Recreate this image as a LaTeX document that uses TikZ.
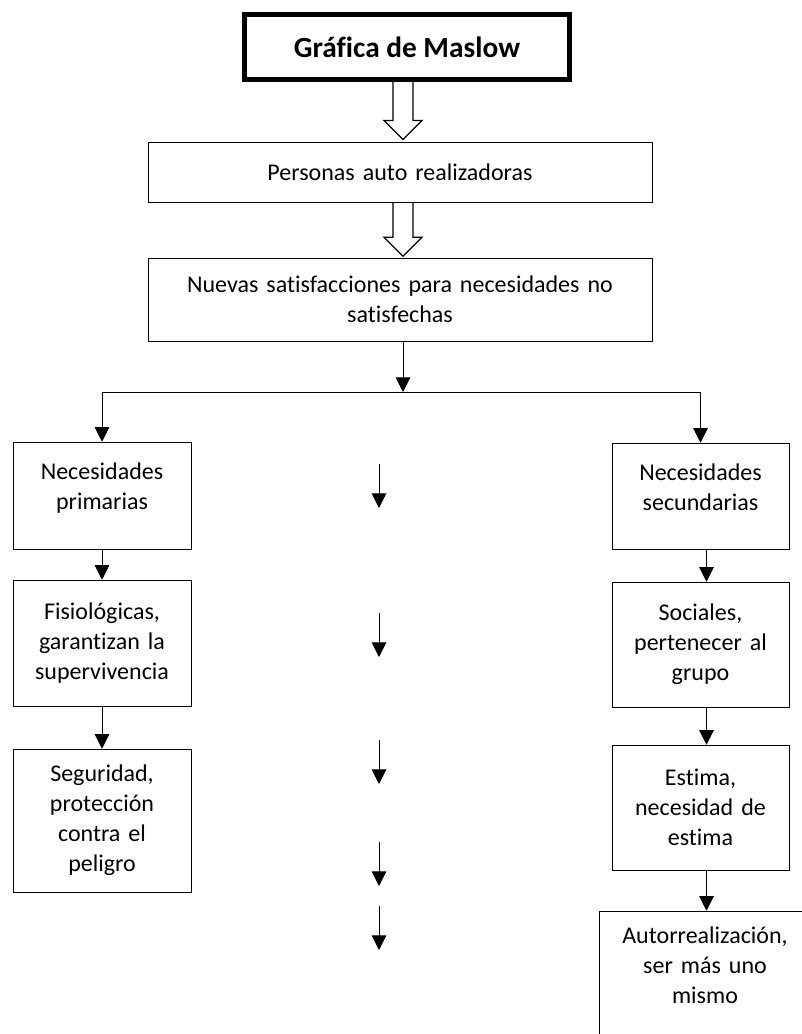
\documentclass[tikz,border=0pt]{standalone}
\usepackage{fontspec}
\setmainfont{Carlito}[Ligatures=CommonOff]
\usetikzlibrary{arrows.meta}

\begin{document}
\begin{tikzpicture}[x=0.75pt,y=-0.75pt,every node/.style={draw, rectangle, align=center, inner xsep=0pt, inner ysep=4pt, font=\fontsize{18}{22.5}\selectfont},arr/.style={-{Triangle[length=11pt,width=11pt]}, line width=0.75pt},hollow/.style={line width=1pt}]
	\useasboundingbox (0,0) rectangle (801,1034);
	\node[line width=3.75pt, minimum width=243.75pt, minimum height=48.75pt, font=\fontsize{22}{26}\selectfont\bfseries] (title) at (407,47) {Gráfica de Maslow};
	\node[text width=378pt, minimum height=45pt] (personas) at (400,172) {Personas auto realizadoras};
	\node[text width=378pt, minimum height=62.25pt] (nuevas) at (400,299.5) {Nuevas satisfacciones para necesidades no\\satisfechas};
	% primarias
	\node[text width=133.5pt, minimum height=80.25pt] (prim) at (102,495.5) {Necesidades\\primarias\rule[-14pt]{0pt}{14pt}};
	\node[text width=133.5pt, minimum height=94.5pt] (fisio) at (102,643) {Fisiológicas,\\garantizan la\\supervivencia};
	\node[text width=133.5pt, minimum height=107.25pt] (segur) at (102,820.5) {Seguridad,\\protección\\contra el\\peligro};
	% secundarias
	\node[text width=132.75pt, minimum height=79.5pt] (secun) at (700.5,496) {Necesidades\\secundarias\rule[-14pt]{0pt}{14pt}};
	\node[text width=132.75pt, minimum height=93.75pt] (social) at (700.5,644.5) {Sociales,\\pertenecer al\\grupo};
	\node[text width=132.75pt, minimum height=93.75pt] (estima) at (700.5,807.5) {Estima,\\necesidad de\\estima};
	\node[text width=159pt, minimum height=100.5pt] (autorr) at (705,978) {Autorrealización,\\ser más uno\\mismo\rule[-19.5pt]{0pt}{19.5pt}};
	
	\draw[hollow] (title.south) ++(-14,0) -- ++(0,38.5) -- ++(-9,0) -- ++(19,19) -- ++(19,-19) -- ++(-9,0) -- ++(0,-38.5);
	\draw[hollow] (personas.south) ++(-7,0) -- ++(0,35) -- ++(-9,0) -- ++(19,19) -- ++(19,-19) -- ++(-9,0) -- ++(0,-35);
	
	\coordinate (split) at (403,392);
	\draw[arr] (nuevas.south -| split) -- (split);
	\draw[arr] (split) -| (prim.north);
	\draw[arr] (split) -| (secun.north);
	\draw[arr] (prim) -- (fisio);
	\draw[arr] (fisio) -- (segur);
	\draw[arr] ([xshift=4.5pt]secun.south) -- ([xshift=4.5pt]social.north);
	\draw[arr] ([xshift=4.5pt]social.south) -- ([xshift=4.5pt]estima.north);
	\draw[arr] ([xshift=4.5pt]estima.south) -- ([xshift=4.5pt]estima.south |- autorr.north);
	
	% flechas sueltas
	\foreach \y [count=\i] in {464,613,740,842,906} {
		\coordinate (mt\i) at (379,\y);
		\coordinate (mb\i) at (379,\y+44);
		\draw[arr] (mt\i) -- (mb\i);
	}
\end{tikzpicture}
\end{document}
